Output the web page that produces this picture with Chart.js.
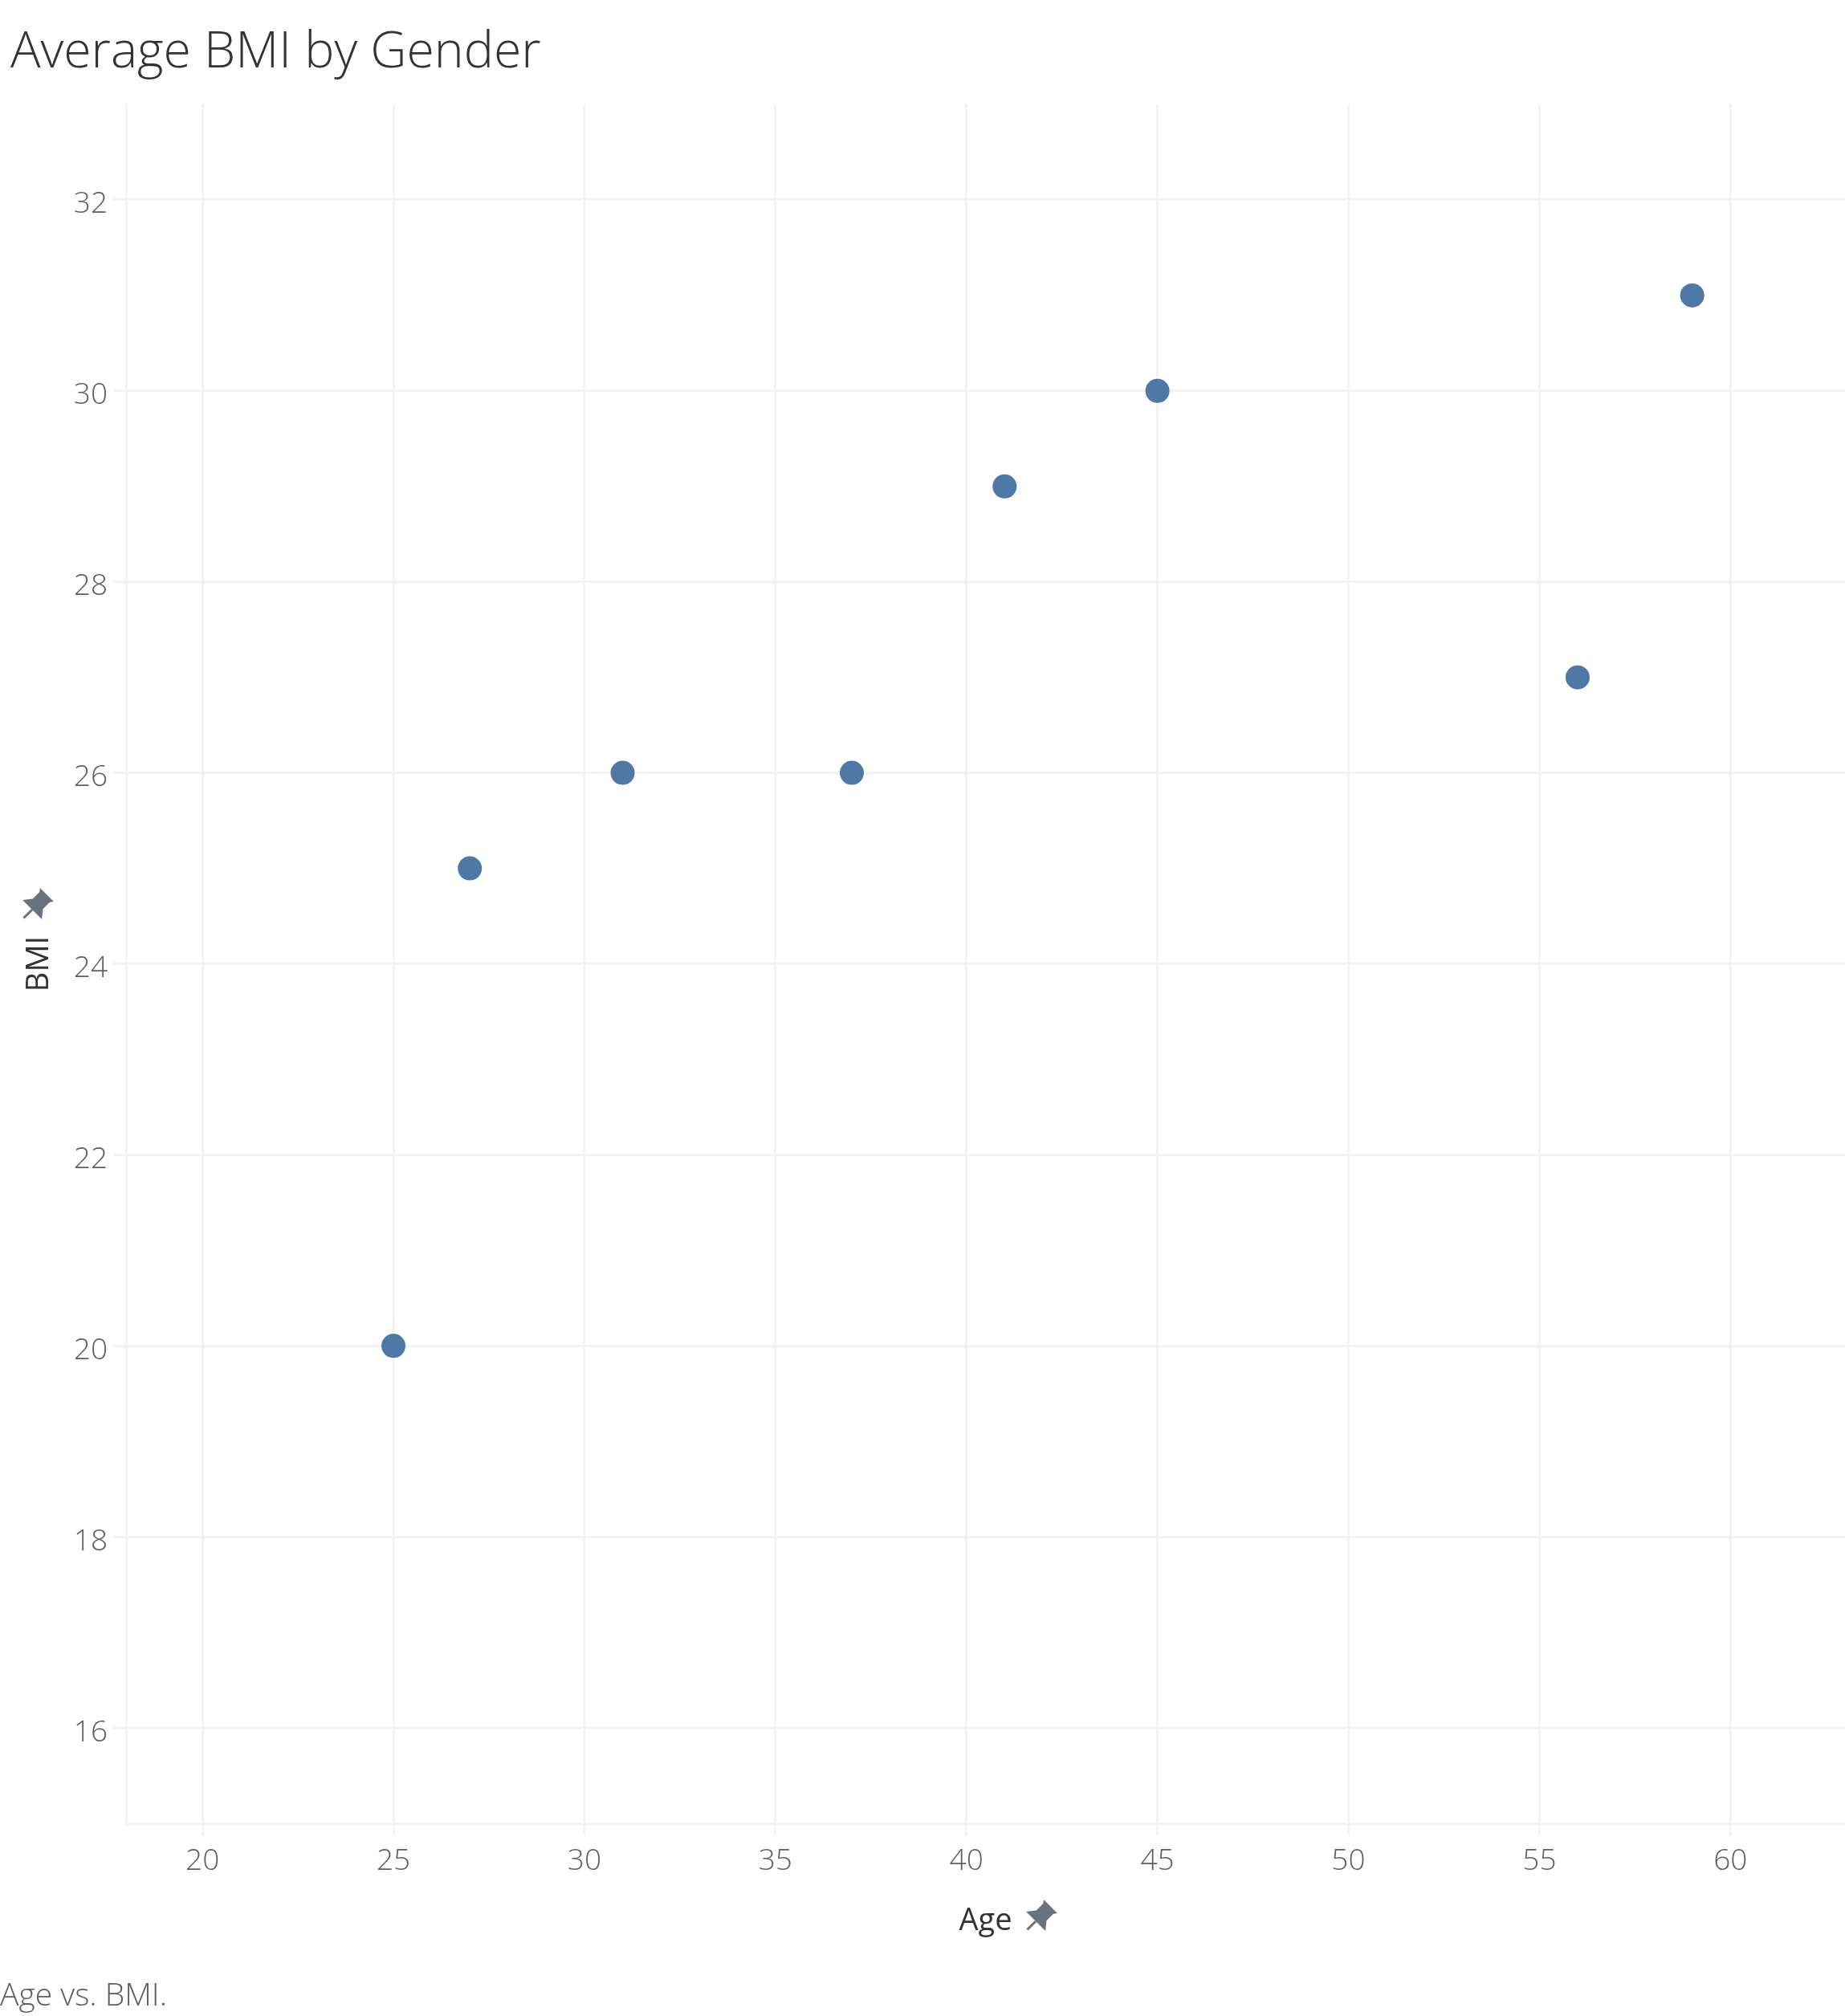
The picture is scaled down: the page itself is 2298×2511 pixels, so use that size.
<!DOCTYPE html>
<html>
<head>
<meta charset="utf-8">
<title>Average BMI by Gender</title>
<script src="https://cdn.jsdelivr.net/npm/chart.js@4"></script>
<style>
    html, body { margin: 0; padding: 0; background: #ffffff; }
    canvas { display: block; }
</style>
</head>
<body>
<canvas id="bmiChart" width="2298" height="2511"></canvas>
<script>
// Values
var ages = [25, 27, 31, 37, 41, 45, 56, 59];
var bmis = [20, 25, 26, 26, 29, 30, 27, 31];
var xTicks = [20, 25, 30, 35, 40, 45, 50, 55, 60];
var yTicks = [16, 18, 20, 22, 24, 26, 28, 30, 32];

var titleText = 'Average BMI by Gender';
var captionText = 'Age vs. BMI.';
var lightFont = '"Open Sans", "Noto Sans", sans-serif';

var GRID = '#f3f3f3';

// Little pin icon next to the axis titles
function drawPin(ctx, cx, cy) {
    ctx.save();
    ctx.translate(cx, cy);
    ctx.rotate(Math.PI / 4);
    ctx.fillStyle = '#69727f';
    ctx.strokeStyle = '#69727f';
    ctx.beginPath();
    ctx.moveTo(-12, -19);
    ctx.lineTo(12, -19);
    ctx.lineTo(9, -15);
    ctx.lineTo(9, -3);
    ctx.lineTo(17, 7);
    ctx.lineTo(-17, 7);
    ctx.lineTo(-9, -3);
    ctx.lineTo(-9, -15);
    ctx.closePath();
    ctx.fill();
    ctx.lineWidth = 3;
    ctx.beginPath();
    ctx.moveTo(0, 7);
    ctx.lineTo(0, 22);
    ctx.stroke();
    ctx.restore();
}

var extrasPlugin = {
    id: 'extras',
    afterDraw: function (chart) {
        var ctx = chart.ctx;
        drawPin(ctx, 45, 1128);
        drawPin(ctx, 1295, 2388);

        ctx.save();
        ctx.fillStyle = '#333333';
        ctx.font = '300 62.5px ' + lightFont;
        ctx.textBaseline = 'alphabetic';
        ctx.fillText(titleText, 13, 84);
        ctx.fillStyle = '#5f5f5f';
        ctx.font = '300 39px ' + lightFont;
        ctx.fillText(captionText, 0, 2498);
        ctx.restore();
    }
};

new Chart(document.getElementById('bmiChart'), {
    type: 'scatter',
    data: {
        datasets: [{
            label: 'BMI',
            data: ages.map(function (a, i) { return {x: a, y: bmis[i]}; }),
            backgroundColor: '#4e79a7',
            pointBorderWidth: 0,
            pointRadius: 15,
            pointHoverRadius: 15
        }]
    },
    options: {
        responsive: false,
        animation: false,
        layout: {autoPadding: false, padding: {top: 130, right: 0, bottom: 95, left: 0}},
        plugins: {
            legend: {display: false},
            tooltip: {enabled: false}
        },
        scales: {
            x: {
                type: 'linear',
                min: 18,
                max: 63,
                afterBuildTicks: function (axis) {
                    axis.ticks = xTicks.map(function (v) { return {value: v}; });
                },
                afterFit: function (axis) { axis.height = 145; },
                grid: {color: GRID, lineWidth: 3, tickLength: 15, tickColor: GRID},
                border: {color: GRID, width: 3},
                ticks: {color: '#5f5f5f', font: {family: lightFont, weight: '300', size: 37}, padding: 10, maxRotation: 0},
                title: {
                    display: true,
                    text: 'Age',
                    color: '#333333',
                    font: {family: lightFont, weight: '500', size: 38},
                    padding: 0
                }
            },
            y: {
                type: 'linear',
                min: 15,
                max: 33,
                afterBuildTicks: function (axis) {
                    axis.ticks = yTicks.map(function (v) { return {value: v}; });
                },
                afterFit: function (axis) { axis.width = 157; },
                grid: {color: GRID, lineWidth: 3, tickLength: 16, tickColor: GRID},
                border: {color: GRID, width: 3},
                ticks: {
                    color: '#5f5f5f',
                    font: {family: lightFont, weight: '300', size: 37, lineHeight: '12px'},
                    padding: 7,
                    // empty first line nudges the label down a few px below its grid line
                    callback: function (value) { return ['', String(value)]; }
                },
                title: {
                    display: true,
                    text: 'BMI',
                    color: '#333333',
                    font: {family: lightFont, weight: '500', size: 38},
                    padding: {top: 26, bottom: 26}
                }
            }
        }
    },
    plugins: [extrasPlugin]
});
</script>
</body>
</html>
